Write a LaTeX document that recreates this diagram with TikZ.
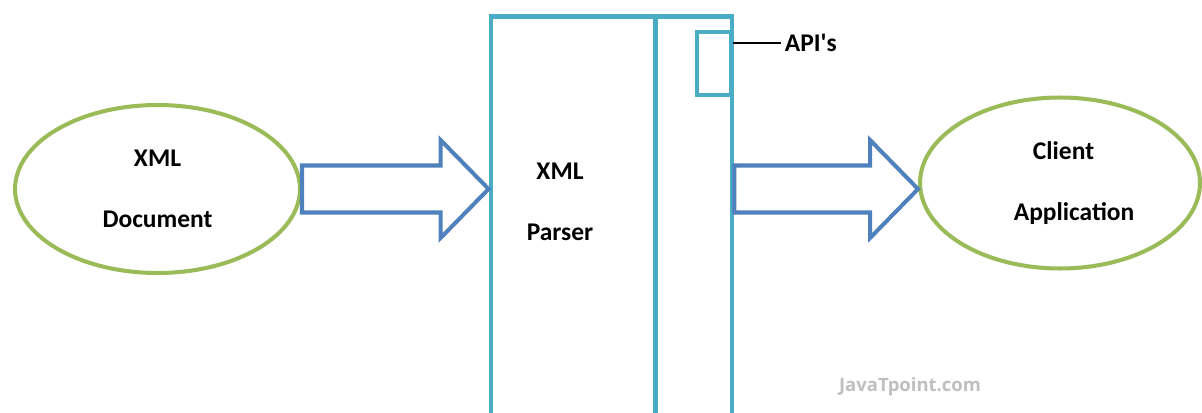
\documentclass[tikz,border=0pt]{standalone}
\usepackage{fontspec}
\setmainfont{Carlito}
\newfontfamily\markfont{Open Sans}
\usetikzlibrary{shapes.geometric,calc}

\definecolor{ovalgreen}{HTML}{9BBB59}
\definecolor{arrowblue}{HTML}{4F81BD}
\definecolor{boxcyan}{HTML}{4BACC6}

\tikzset{
  txt/.style={font=\bfseries\fontsize{14.5}{14.5}\selectfont, align=center},
  oval/.style={ellipse, draw=ovalgreen, line width=2.3pt, inner sep=0pt, txt},
  box/.style={draw=boxcyan, line width=2.8pt, inner sep=0pt},
  flow/.style={draw=arrowblue, line width=2.3pt, line join=miter}
}

% block arrow from #1 to the tip #2
\newcommand{\fatarrow}[2]{%
  \draw[flow] ($(#1)+(0,-23.5)$) -- ($(#2)+(-48,-23.5)$) -- ($(#2)+(-48,-49)$)
    -- (#2) -- ($(#2)+(-48,49)$) -- ($(#2)+(-48,23.5)$) -- ($(#1)+(0,23.5)$) -- cycle;}

\begin{document}
\begin{tikzpicture}[x=0.02cm, y=-0.02cm]
        \useasboundingbox (0,0) rectangle (1202,412);
        \node[oval, minimum width=5.7cm, minimum height=3.36cm] (doc) at (157.5,189) {XML\\[20pt]Document};
        \node[oval, minimum width=5.6cm, minimum height=3.42cm] (client) at (1060,183) {\hspace*{4pt}Client\\[20pt]\hspace*{16pt}Application};
        \node[box, minimum width=4.82cm, minimum height=8.3cm] (parser) at (611.5,224) {};
        \draw[box] ([xshift=3.34cm]parser.north west) -- ([xshift=3.34cm]parser.south west);
        \node[txt] (ptxt) at (560,202) {XML\\[20pt]Parser};
        \node[box, minimum width=0.68cm, minimum height=1.26cm] (api) at (714,63.5) {};
        \node[txt, anchor=west, inner sep=2pt] (apitxt) at (781,43) {API\textquotesingle s};
        \draw[line width=0.7pt] (apitxt.west -| api.east) -- (apitxt.west);
        \fatarrow{doc.east}{doc.east -| parser.west}
        \fatarrow{doc.east -| parser.east}{doc.east -| client.west}
        \node[font=\markfont\bfseries\fontsize{10.5}{10.5}\selectfont, text=black!25] (mark) at (910,387) {JavaTpoint.com};
\end{tikzpicture}
\end{document}
